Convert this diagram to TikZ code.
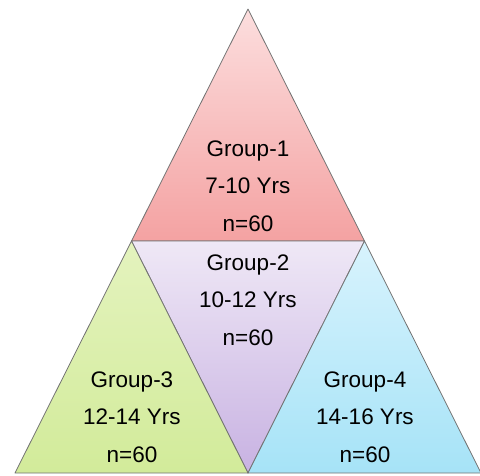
\documentclass[tikz,border=0pt]{standalone}
\usepackage{fontspec}
\setmainfont{Liberation Sans}
\usetikzlibrary{calc}
\definecolor{redtop}{HTML}{FCDEDE}
\definecolor{redbot}{HTML}{F4A2A2}
\definecolor{lilactop}{HTML}{EFE8F6}
\definecolor{lilacbot}{HTML}{C8B2E2}
\definecolor{greentop}{HTML}{E4F3BE}
\definecolor{greenbot}{HTML}{D2EB9A}
\definecolor{cyantop}{HTML}{D8F3FD}
\definecolor{cyanbot}{HTML}{A6E3F7}
\begin{document}
\begin{tikzpicture}[x=1pt,y=-1pt,line join=round]
\tikzset{part/.style={draw=black!55,line width=0.8pt},
  label style/.style={font=\fontsize{22.5}{37.5}\selectfont,align=center}}
\useasboundingbox (0,0) rectangle (480,475);
% corners of the big triangle and the midpoints of its sides
\coordinate (A) at (248,9);
\coordinate (L) at (15,473);
\coordinate (R) at (481,473);
\coordinate (ML) at ($(A)!0.5!(L)$);
\coordinate (MR) at ($(A)!0.5!(R)$);
\coordinate (MB) at ($(L)!0.5!(R)$);
\path[part,top color=redtop,bottom color=redbot] (A)--(ML)--(MR)--cycle;
\path[part,top color=lilactop,bottom color=lilacbot] (ML)--(MR)--(MB)--cycle;
\path[part,top color=greentop,bottom color=greenbot] (ML)--(L)--(MB)--cycle;
\path[part,top color=cyantop,bottom color=cyanbot] (MR)--(MB)--(R)--cycle;
\node[label style] (g1) at (248,186) {Group-1\\7-10 Yrs\\n=60};
\node[label style] (g2) at (248,300) {Group-2\\10-12 Yrs\\n=60};
\node[label style] (g3) at (132,417) {Group-3\\12-14 Yrs\\n=60};
\node[label style] (g4) at (365,417) {Group-4\\14-16 Yrs\\n=60};
\end{tikzpicture}
\end{document}
